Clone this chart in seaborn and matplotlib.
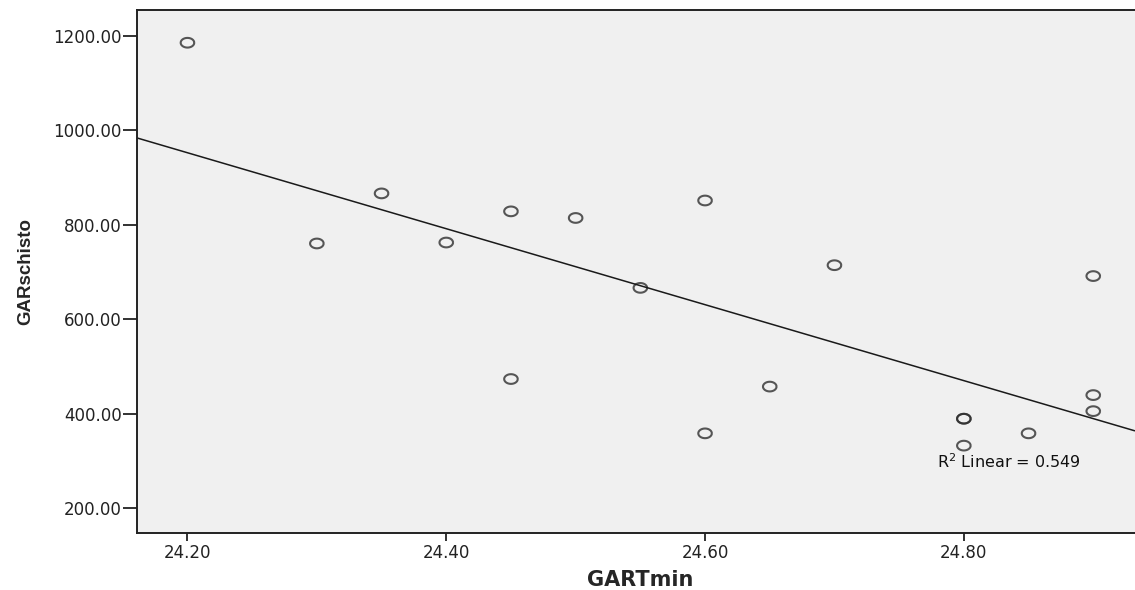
"""
SPSS-style scatter of GARschisto against GARTmin with a linear fit line.
"""

import numpy as np
import pandas as pd
import matplotlib
matplotlib.use("Agg")
import matplotlib.pyplot as plt
from matplotlib.path import Path
import seaborn as sns

# Values
gart_min = [24.20, 24.30, 24.35, 24.40, 24.45, 24.45, 24.50, 24.55, 24.60, 24.60,
            24.65, 24.70, 24.80, 24.80, 24.80, 24.85, 24.90, 24.90, 24.90]
gar_schisto = [1185, 760, 866, 762, 828, 473, 814, 666, 851, 358,
               457, 714, 389, 389, 332, 358, 691, 439, 405]
x_ticks = [24.20, 24.40, 24.60, 24.80]
y_ticks = [200, 400, 600, 800, 1000, 1200]

df = pd.DataFrame({"GARTmin": gart_min, "GARschisto": gar_schisto})

sns.set_style("white")
plt.rcParams["font.family"] = ["DejaVu Sans"]

# SPSS circles look slightly wider than tall
theta = np.linspace(0, 2 * np.pi, 60)
ellipse = Path(np.column_stack([1.4 * np.cos(theta), np.sin(theta)]))

fig = plt.figure(figsize=(11.35, 5.9), dpi=100)
ax = fig.add_axes([0.1207, 0.0966, 0.879, 0.887])
ax.set_facecolor("#f0f0f0")
# limits first so the fit line runs edge to edge
ax.set_xlim(24.161, 24.932)
ax.set_ylim(147, 1255)

sns.regplot(data=df, x="GARTmin", y="GARschisto", ax=ax, ci=None, truncate=False,
            marker=ellipse,
            scatter_kws=dict(s=95, facecolors="none", edgecolors="#2e2e2e", linewidths=1.5),
            line_kws=dict(color="#1a1a1a", linewidth=1.1))

r = np.corrcoef(gart_min, gar_schisto)[0, 1]
print("R2 =", r ** 2)
ax.text(24.835, 298, r"R$^2$ Linear = 0.549", fontsize=11.5, color="#111111",
        ha="center", va="center")

ax.set_xlim(24.161, 24.932)
ax.set_ylim(147, 1255)
ax.set_xticks(x_ticks)
ax.set_xticklabels([f"{v:.2f}" for v in x_ticks])
ax.set_yticks(y_ticks)
ax.set_yticklabels([f"{v:.2f}" for v in y_ticks])
ax.tick_params(axis="x", bottom=True, direction="out", length=6, width=1.3,
               color="#222222", labelsize=12, labelcolor="#222222", pad=2)
ax.tick_params(axis="y", left=True, direction="out", length=10, width=1.3,
               color="#222222", labelsize=12, labelcolor="#222222", pad=1)

for side in ["left", "bottom", "top", "right"]:
    ax.spines[side].set_color("#222222")
    ax.spines[side].set_linewidth(1.4)
ax.spines["right"].set_visible(False)

ax.set_xlabel("GARTmin", fontsize=15, fontweight="bold")
ax.xaxis.set_label_coords(0.504, -0.07)
ax.set_ylabel("GARschisto", fontsize=13.5, fontweight="bold", family=["Liberation Sans"])
ax.yaxis.set_label_coords(-0.112, 0.5)
ax.yaxis.label.set_va("center")

fig.savefig("out.png", dpi=100)
